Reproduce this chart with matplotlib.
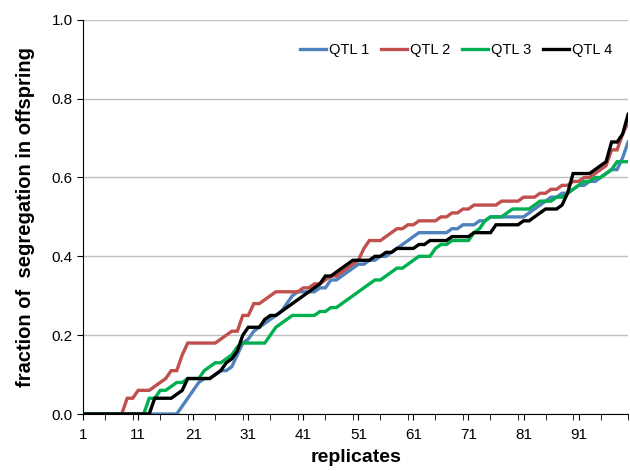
import matplotlib
matplotlib.use("Agg")
import matplotlib.pyplot as plt
from matplotlib.ticker import MultipleLocator, FormatStrFormatter

replicates = list(range(1, 101))

qtl1 = [0]*18 + [
    0.02, 0.04, 0.06, 0.08, 0.09, 0.09, 0.10, 0.11, 0.11, 0.12,   # 19-28
    0.15, 0.18, 0.19, 0.21, 0.22, 0.23, 0.24, 0.25, 0.26, 0.28,   # 29-38
    0.30, 0.31, 0.31, 0.31, 0.31, 0.32, 0.32, 0.34, 0.34, 0.35,   # 39-48
    0.36, 0.37, 0.38, 0.38, 0.39, 0.39, 0.40, 0.40, 0.41, 0.42,   # 49-58
    0.43, 0.44, 0.45, 0.46, 0.46, 0.46, 0.46, 0.46, 0.46, 0.47,   # 59-68
    0.47, 0.48, 0.48, 0.48, 0.49, 0.49, 0.50, 0.50, 0.50, 0.50,   # 69-78
    0.50, 0.50, 0.50, 0.51, 0.52, 0.53, 0.54, 0.55, 0.55, 0.56,   # 79-88
    0.56, 0.57, 0.58, 0.58, 0.59, 0.59, 0.60, 0.61, 0.62, 0.62,   # 89-98
    0.65, 0.69]                                                  # 99-100

qtl2 = [0]*8 + [
    0.04, 0.04, 0.06, 0.06, 0.06, 0.07, 0.08, 0.09, 0.11, 0.11,   # 9-18
    0.15, 0.18, 0.18, 0.18, 0.18, 0.18, 0.18, 0.19, 0.20, 0.21,   # 19-28
    0.21, 0.25, 0.25, 0.28, 0.28, 0.29, 0.30, 0.31, 0.31, 0.31,   # 29-38
    0.31, 0.31, 0.32, 0.32, 0.33, 0.33, 0.34, 0.35, 0.35, 0.36,   # 39-48
    0.37, 0.38, 0.39, 0.42, 0.44, 0.44, 0.44, 0.45, 0.46, 0.47,   # 49-58
    0.47, 0.48, 0.48, 0.49, 0.49, 0.49, 0.49, 0.50, 0.50, 0.51,   # 59-68
    0.51, 0.52, 0.52, 0.53, 0.53, 0.53, 0.53, 0.53, 0.54, 0.54,   # 69-78
    0.54, 0.54, 0.55, 0.55, 0.55, 0.56, 0.56, 0.57, 0.57, 0.58,   # 79-88
    0.58, 0.59, 0.59, 0.60, 0.60, 0.61, 0.62, 0.63, 0.67, 0.67,   # 89-98
    0.71, 0.74]                                                  # 99-100

qtl3 = [0]*12 + [
    0.04, 0.04, 0.06, 0.06, 0.07, 0.08, 0.08, 0.09, 0.09, 0.09,   # 13-22
    0.11, 0.12, 0.13, 0.13, 0.14, 0.15, 0.17, 0.18, 0.18, 0.18,   # 23-32
    0.18, 0.18, 0.20, 0.22, 0.23, 0.24, 0.25, 0.25, 0.25, 0.25,   # 33-42
    0.25, 0.26, 0.26, 0.27, 0.27, 0.28, 0.29, 0.30, 0.31, 0.32,   # 43-52
    0.33, 0.34, 0.34, 0.35, 0.36, 0.37, 0.37, 0.38, 0.39, 0.40,   # 53-62
    0.40, 0.40, 0.42, 0.43, 0.43, 0.44, 0.44, 0.44, 0.44, 0.46,   # 63-72
    0.47, 0.49, 0.50, 0.50, 0.50, 0.51, 0.52, 0.52, 0.52, 0.52,   # 73-82
    0.53, 0.54, 0.54, 0.54, 0.55, 0.55, 0.56, 0.57, 0.58, 0.59,   # 83-92
    0.59, 0.60, 0.60, 0.61, 0.62, 0.64, 0.64, 0.64]              # 93-100

qtl4 = [0]*13 + [
    0.04, 0.04, 0.04, 0.04, 0.05, 0.06, 0.09, 0.09, 0.09, 0.09,   # 14-23
    0.09, 0.10, 0.11, 0.13, 0.14, 0.16, 0.20, 0.22, 0.22, 0.22,   # 24-33
    0.24, 0.25, 0.25, 0.26, 0.27, 0.28, 0.29, 0.30, 0.31, 0.32,   # 34-43
    0.33, 0.35, 0.35, 0.36, 0.37, 0.38, 0.39, 0.39, 0.39, 0.39,   # 44-53
    0.40, 0.40, 0.41, 0.41, 0.42, 0.42, 0.42, 0.42, 0.43, 0.43,   # 54-63
    0.44, 0.44, 0.44, 0.44, 0.45, 0.45, 0.45, 0.45, 0.46, 0.46,   # 64-73
    0.46, 0.46, 0.48, 0.48, 0.48, 0.48, 0.48, 0.49, 0.49, 0.50,   # 74-83
    0.51, 0.52, 0.52, 0.52, 0.53, 0.56, 0.61, 0.61, 0.61, 0.61,   # 84-93
    0.62, 0.63, 0.64, 0.69, 0.69, 0.71, 0.76]                    # 94-100

series = [("QTL 1", qtl1, "#4F81BD"),
          ("QTL 2", qtl2, "#C0504D"),
          ("QTL 3", qtl3, "#00B050"),
          ("QTL 4", qtl4, "#000000")]

x_tick_labels = [1, 11, 21, 31, 41, 51, 61, 71, 81, 91]

plt.rcParams['font.family'] = ['Liberation Sans', 'DejaVu Sans']

fig = plt.figure(figsize=(6.3, 4.71), dpi=100)
ax = fig.add_axes([0.132, 0.121, 0.865, 0.837])

for name, vals, col in series:
    ax.plot(replicates, vals, color=col, lw=2.4, label=name, solid_joinstyle='miter')

ax.set_xlim(1, 100)
ax.set_ylim(0, 1.0)
ax.set_xticks(x_tick_labels)
ax.set_xticklabels([str(v) for v in x_tick_labels])
ax.xaxis.set_minor_locator(MultipleLocator(5))
ax.yaxis.set_major_locator(MultipleLocator(0.2))
ax.yaxis.set_major_formatter(FormatStrFormatter('%.1f'))
ax.grid(axis='y', color='#BFBFBF', lw=1)
ax.set_axisbelow(True)
for s in ['top', 'right']:
    ax.spines[s].set_visible(False)
ax.spines['left'].set_color('black')
ax.spines['bottom'].set_color('black')
ax.tick_params(axis='both', which='both', direction='out', length=4, color='black', labelsize=11)
ax.tick_params(axis='x', which='minor', length=4)
ax.tick_params(axis='x', pad=6)

ax.set_ylabel("fraction of  segregation in offspring", fontsize=14.5, fontweight='bold', labelpad=12)
ax.set_xlabel("replicates", fontsize=14, fontweight='bold', labelpad=5)

ax.legend(loc='upper right', ncol=4, frameon=False, fontsize=10.5,
          bbox_to_anchor=(0.995, 0.975), handlelength=1.8, handletextpad=0.2,
          columnspacing=0.8)

fig.savefig("out.png", dpi=100)
